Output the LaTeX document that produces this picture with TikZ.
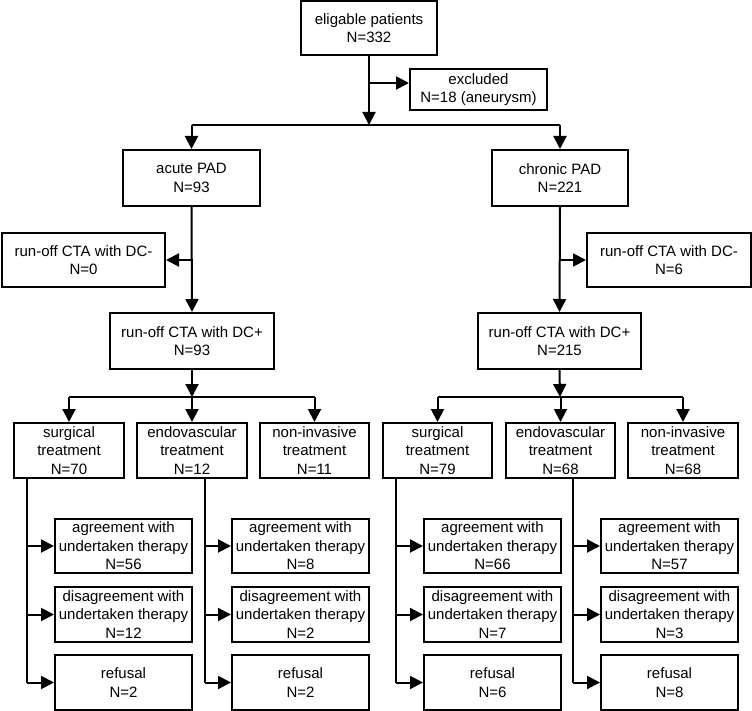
\documentclass[tikz,border=0pt]{standalone}
\usepackage{fontspec}
\setmainfont{Liberation Sans}
\usetikzlibrary{arrows.meta}
\tikzset{
  box/.style={draw, line width=2pt, align=center, inner sep=0pt,
    font=\fontsize{15pt}{18.5pt}\selectfont},
  arr/.style={line width=2pt, -{Triangle[length=13pt,width=13pt]}},
  ln/.style={line width=2pt},
}
\begin{document}
\begin{tikzpicture}[x=1pt,y=-1pt]
\useasboundingbox (0,0) rectangle (752,711);
% top
\node[box, minimum width=136pt, minimum height=54pt] (elig) at (369,28) {eligable patients\\N=332};
\node[box, minimum width=137pt, minimum height=41pt] (excl) at (478.5,89.5) {excluded\\N=18 (aneurysm)};
% PAD
\node[box, minimum width=137pt, minimum height=56pt] (acute) at (191.5,178) {acute PAD\\N=93};
\node[box, minimum width=136pt, minimum height=56pt] (chron) at (560,178) {chronic PAD\\N=221};
% DC-
\node[box, minimum width=163pt, minimum height=54pt] (dcmL) at (83.5,260) {run-off CTA with DC-\\N=0};
\node[box, minimum width=164pt, minimum height=54pt] (dcmR) at (669,260) {run-off CTA with DC-\\N=6};
% DC+
\node[box, minimum width=164pt, minimum height=56pt] (dcpL) at (192,341) {run-off CTA with DC+\\N=93};
\node[box, minimum width=163pt, minimum height=56pt] (dcpR) at (559.5,341) {run-off CTA with DC+\\N=215};
% treatments
\node[box, minimum width=110pt, minimum height=55pt] (sL) at (69,450.5) {surgical\\treatment\\N=70};
\node[box, minimum width=110pt, minimum height=55pt] (eL) at (192,450.5) {endovascular\\treatment\\N=12};
\node[box, minimum width=109pt, minimum height=55pt] (nL) at (314.5,450.5) {non-invasive\\treatment\\N=11};
\node[box, minimum width=109pt, minimum height=55pt] (sR) at (437.5,450.5) {surgical\\treatment\\N=79};
\node[box, minimum width=109pt, minimum height=55pt] (eR) at (560.5,450.5) {endovascular\\treatment\\N=68};
\node[box, minimum width=110pt, minimum height=55pt] (nR) at (683,450.5) {non-invasive\\treatment\\N=68};
% outcomes
\foreach \c/\xx/\a/\d/\r in {1/123.5/56/12/2, 2/300.5/8/2/2, 3/492.5/66/7/6, 4/669.5/57/3/8}{
  \node[box, minimum width=137pt, minimum height=54pt] (ag\c) at (\xx,546) {agreement with\\undertaken therapy\\N=\a};
  \node[box, minimum width=137pt, minimum height=55pt] (di\c) at (\xx,614.5) {disagreement with\\undertaken therapy\\N=\d};
  \node[box, minimum width=137pt, minimum height=55pt] (re\c) at (\xx,682.5) {refusal\\N=\r};
}
% connectors top
\coordinate (s0) at (369,125);
\coordinate (e0) at (369,83);
\draw[arr] (elig.south) -- (s0);
\draw[arr] (e0) -- (e0 -| excl.west);
\draw[ln] (s0 -| acute.north) -- (s0 -| chron.north);
\draw[arr] (s0 -| acute.north) -- (acute.north);
\draw[arr] (s0 -| chron.north) -- (chron.north);
% PAD to DC
\draw[arr] (acute.south) -- (dcpL.north);
\draw[arr] (acute.south |- dcmL.east) -- (dcmL.east);
\draw[arr] (chron.south) -- (dcpR.north);
\draw[arr] (chron.south |- dcmR.west) -- (dcmR.west);
% DC+ to treatments
\coordinate (sl) at (192,397);
\coordinate (sr) at (560,397);
\draw[arr] (dcpL.south) -- (sl);
\draw[ln] (sl -| sL.north) -- (sl -| nL.north);
\draw[arr] (sl -| sL.north) -- (sL.north);
\draw[arr] (sl) -- (eL.north);
\draw[arr] (sl -| nL.north) -- (nL.north);
\draw[arr] (dcpR.south) -- (sr);
\draw[ln] (sr -| sR.north) -- (sr -| nR.north);
\draw[arr] (sr -| sR.north) -- (sR.north);
\draw[arr] (sr -| eR.north) -- (eR.north);
\draw[arr] (sr -| nR.north) -- (nR.north);
% treatments to outcomes
\foreach \t/\c/\dx in {sL/1/14, eL/2/69, sR/3/14, eR/4/68}{
  \draw[ln] ([xshift=\dx pt]\t.south west) -- ([xshift=\dx pt]\t.south west |- re\c.west);
  \draw[arr] ([xshift=\dx pt]\t.south west |- ag\c.west) -- (ag\c.west);
  \draw[arr] ([xshift=\dx pt]\t.south west |- di\c.west) -- (di\c.west);
  \draw[arr] ([xshift=\dx pt]\t.south west |- re\c.west) -- (re\c.west);
}
\end{tikzpicture}
\end{document}
